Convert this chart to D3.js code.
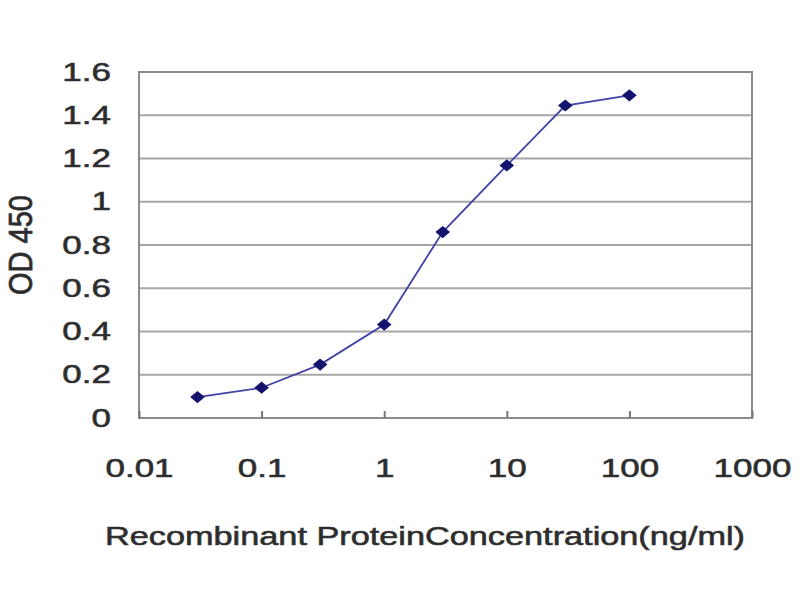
<!DOCTYPE html>
<html>
<head>
<meta charset="utf-8">
<script src="https://cdn.jsdelivr.net/npm/d3@7"></script>
<style>
  body { margin: 0; background: #fff; }
  text { font-family: "Liberation Sans", Arial, sans-serif; fill: #2a2a2a; stroke: #3a3a3a; stroke-width: 0.6px; }
</style>
</head>
<body>
<svg id="chart" width="800" height="600"></svg>
<script>
// concentration (ng/ml) and OD 450 readings
const concentrations = [0.03, 0.1, 0.3, 1, 3, 10, 30, 100];
const odValues = [0.097, 0.14, 0.247, 0.432, 0.86, 1.168, 1.445, 1.492];
const xTicks = [0.01, 0.1, 1, 10, 100, 1000];
const yTicks = [0, 0.2, 0.4, 0.6, 0.8, 1, 1.2, 1.4, 1.6];

const svg = d3.select("#chart");
const margin = {left: 139, right: 48, top: 72, bottom: 182};
const width = 800, height = 600;
// the source picture is stretched sideways, so the text is too
const STRETCH = 1.4;

const x = d3.scaleLog()
  .domain([0.01, 1000])
  .range([margin.left, width - margin.right]);

const y = d3.scaleLinear()
  .domain([0, 1.6])
  .range([height - margin.bottom, margin.top]);

// horizontal grid lines
svg.append("g")
  .selectAll("line")
  .data(yTicks.slice(1))
  .enter()
  .append("line")
  .attr("x1", x(0.01))
  .attr("x2", x(1000))
  .attr("y1", d => y(d))
  .attr("y2", d => y(d))
  .attr("stroke", "#a6a6a6")
  .attr("stroke-width", 2);

// frame
svg.append("rect")
  .attr("x", x(0.01))
  .attr("y", y(1.6))
  .attr("width", x(1000) - x(0.01))
  .attr("height", y(0) - y(1.6))
  .attr("fill", "none")
  .attr("stroke", "#8c8c8c")
  .attr("stroke-width", 2);

// bottom axis, ticks pointing into the plot
const xAxis = svg.append("g")
  .attr("transform", `translate(0,${y(0)})`)
  .call(d3.axisBottom(x)
    .tickValues(xTicks)
    .tickSize(-7)
    .tickPadding(41)
    .tickFormat(d => String(d)));
xAxis.select(".domain").remove();
xAxis.selectAll(".tick line")
  .attr("stroke", "#777")
  .attr("stroke-width", 2);
xAxis.selectAll(".tick text")
  .style("font-size", "25px")
  .style("font-family", "Liberation Sans, Arial, sans-serif")
  .attr("fill", "#2a2a2a")
  .attr("transform", `scale(${STRETCH},1)`);

// left axis labels only
const yAxis = svg.append("g")
  .attr("transform", `translate(${x(0.01)},0)`)
  .call(d3.axisLeft(y)
    .tickValues(yTicks)
    .tickSize(0)
    .tickPadding(20)
    .tickFormat(d => String(d)));
yAxis.select(".domain").remove();
yAxis.selectAll(".tick text")
  .style("font-size", "25px")
  .style("font-family", "Liberation Sans, Arial, sans-serif")
  .attr("fill", "#2a2a2a")
  .attr("transform", `scale(${STRETCH},1)`);

const points = concentrations.map((c, i) => ({c: c, od: odValues[i]}));

// data line
svg.append("path")
  .datum(points)
  .attr("fill", "none")
  .attr("stroke", "#4242a4")
  .attr("stroke-width", 1.8)
  .attr("d", d3.line().x(d => x(d.c)).y(d => y(d.od)));

// diamond markers
svg.append("g")
  .selectAll("path")
  .data(points)
  .enter()
  .append("path")
  .attr("transform", d => `translate(${x(d.c)},${y(d.od)}) scale(1.2,1)`)
  .attr("d", d3.symbol().type(d3.symbolDiamond2).size(95))
  .attr("fill", "#14146e");

// axis titles
svg.append("text")
  .attr("transform", `translate(32,${(y(0) + y(1.6)) / 2}) scale(1.35,1) rotate(-90)`)
  .attr("text-anchor", "middle")
  .attr("textLength", 100)
  .attr("lengthAdjust", "spacingAndGlyphs")
  .style("font-size", "25px")
  .text("OD 450");

svg.append("text")
  .attr("x", 425)
  .attr("y", 545)
  .attr("text-anchor", "middle")
  .attr("textLength", 640)
  .attr("lengthAdjust", "spacingAndGlyphs")
  .style("font-size", "25px")
  .text("Recombinant ProteinConcentration(ng/ml)");
</script>
</body>
</html>
